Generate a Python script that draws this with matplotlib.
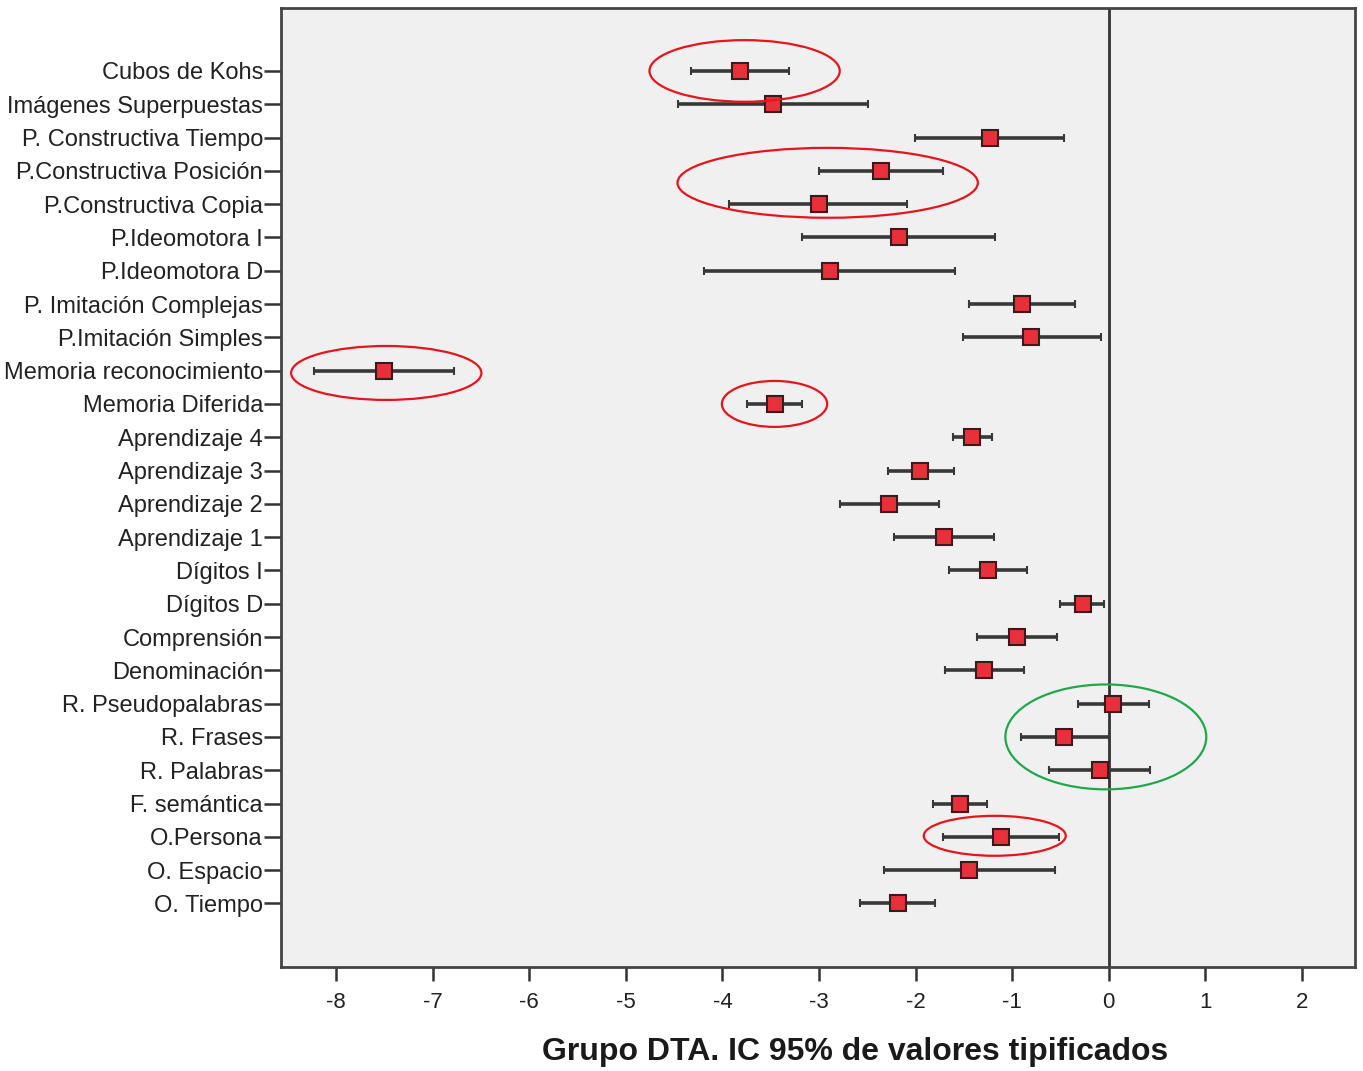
import numpy as np
import matplotlib.pyplot as plt
from matplotlib.patches import Ellipse

plt.rcParams['font.family'] = ['Liberation Sans', 'DejaVu Sans']

# test labels, top to bottom
tests = [
    'Cubos de Kohs', 'Imágenes Superpuestas', 'P. Constructiva Tiempo',
    'P.Constructiva Posición', 'P.Constructiva Copia', 'P.Ideomotora I',
    'P.Ideomotora D', 'P. Imitación Complejas', 'P.Imitación Simples',
    'Memoria reconocimiento', 'Memoria Diferida', 'Aprendizaje 4',
    'Aprendizaje 3', 'Aprendizaje 2', 'Aprendizaje 1', 'Dígitos I',
    'Dígitos D', 'Comprensión', 'Denominación', 'R. Pseudopalabras',
    'R. Frases', 'R. Palabras', 'F. semántica', 'O.Persona', 'O. Espacio',
    'O. Tiempo',
]

# mean z-scores and 95% CI bounds
means = [-3.82, -3.48, -1.23, -2.36, -3.00, -2.17, -2.89, -0.90, -0.80,
         -7.50, -3.46, -1.42, -1.95, -2.28, -1.71, -1.25, -0.27, -0.95,
         -1.29, 0.04, -0.46, -0.09, -1.54, -1.12, -1.45, -2.18]
lower = [-4.32, -4.46, -2.01, -3.00, -3.93, -3.18, -4.19, -1.45, -1.51,
         -8.23, -3.74, -1.61, -2.29, -2.78, -2.22, -1.65, -0.50, -1.36,
         -1.70, -0.32, -0.91, -0.62, -1.82, -1.72, -2.33, -2.57]
upper = [-3.31, -2.49, -0.46, -1.72, -2.09, -1.18, -1.59, -0.35, -0.08,
         -6.78, -3.18, -1.21, -1.60, -1.76, -1.19, -0.85, -0.05, -0.54,
         -0.88, 0.42, 0.00, 0.43, -1.26, -0.51, -0.56, -1.80]

xticks = [-8, -7, -6, -5, -4, -3, -2, -1, 0, 1, 2]

# highlighted groups: (x center, y center, width, height, colour)
highlights = [
    (-3.77, 0.0, 1.97, 1.85, '#e8141c'),
    (-2.91, 3.36, 3.11, 2.10, '#e8141c'),
    (-7.48, 9.07, 1.97, 1.62, '#e8141c'),
    (-3.46, 10.0, 1.09, 1.38, '#e8141c'),
    (-0.03, 20.0, 2.08, 3.15, '#1fa84a'),
    (-1.18, 22.97, 1.47, 1.20, '#e8141c'),
]

fig = plt.figure(figsize=(13.63, 10.71), dpi=100)
ax = fig.add_axes([281 / 1363, 1 - 967 / 1071, (1355 - 281) / 1363, (967 - 8) / 1071])
ax.set_facecolor('#f0f0f0')

y = np.arange(len(tests))
means = np.array(means)
err = [means - np.array(lower), np.array(upper) - means]

ax.axvline(0, color='#333333', lw=2, zorder=1)
ax.errorbar(means, y, xerr=err, fmt='s', color='#383838', ecolor='#383838',
            elinewidth=2.6, capsize=3, capthick=2.4,
            markersize=11.5, markerfacecolor='#e8303a', markeredgecolor='#3a1a1a',
            markeredgewidth=1.5, zorder=3)

for cx, cy, w, h, c in highlights:
    ax.add_patch(Ellipse((cx, cy), w, h, fill=False, edgecolor=c, lw=1.6,
                         clip_on=False, zorder=4))

ax.set_xlim(-8.57, 2.55)
ax.set_ylim(26.91, -1.89)
ax.set_xticks(xticks)
ax.set_xticklabels([str(t) for t in xticks])
ax.set_yticks(y)
ax.set_yticklabels(tests)
ax.tick_params(axis='y', length=12, width=1.8, color='#333333', labelsize=17,
               labelcolor='#222222', pad=1)
ax.tick_params(axis='x', length=10, width=1.8, color='#333333', labelsize=16,
               labelcolor='#222222', pad=8)
for s in ax.spines.values():
    s.set_color('#444444')
    s.set_linewidth(2)

fig.text(855 / 1363, 1 - 1052 / 1071, 'Grupo DTA. IC 95% de valores tipificados',
         ha='center', va='center', fontsize=23, fontweight='bold', color='#1a1a1a')

fig.savefig('out.png', dpi=100, facecolor='white')
